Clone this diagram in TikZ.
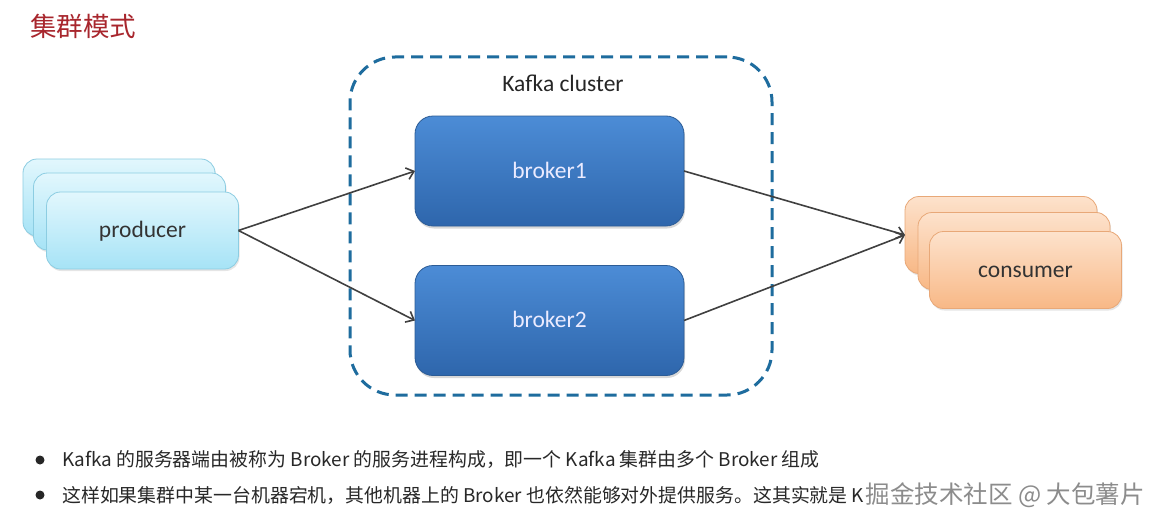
\documentclass[tikz,border=0pt]{standalone}
\usepackage{fontspec}
\setmainfont{Carlito}
\newfontfamily\cjk{Noto Sans CJK SC}
\usetikzlibrary{arrows.meta,shadows,positioning}
\definecolor{titlered}{RGB}{168,38,45}
\definecolor{clusterblue}{RGB}{30,108,158}
\definecolor{brokertop}{RGB}{76,140,214}
\definecolor{brokerbot}{RGB}{46,102,172}
\definecolor{brokerline}{RGB}{44,92,150}
\definecolor{prodtop}{RGB}{226,247,253}
\definecolor{prodbot}{RGB}{166,227,246}
\definecolor{prodline}{RGB}{140,205,226}
\definecolor{constop}{RGB}{253,226,204}
\definecolor{consbot}{RGB}{248,184,134}
\definecolor{consline}{RGB}{232,168,120}
\definecolor{arrowgray}{RGB}{64,64,64}
\definecolor{textgray}{RGB}{40,40,40}
\begin{document}
\begin{tikzpicture}[x=1pt, y=-1pt, >={Straight Barb[length=7pt,width=12pt]},
  label/.style={font=\fontsize{23.5}{28}\selectfont, text height=14pt, text depth=0pt},
  stackbox/.style={rounded corners=14pt, line width=0.8pt, minimum width=192pt, minimum height=77pt,
    inner sep=0pt, outer sep=0pt, drop shadow={opacity=0.2, shadow xshift=1pt, shadow yshift=-2pt}},
  prodbox/.style={stackbox, draw=prodline, top color=prodtop, bottom color=prodbot},
  consbox/.style={stackbox, draw=consline, top color=constop, bottom color=consbot},
  brokerbox/.style={draw=brokerline, line width=0.8pt, rounded corners=18pt, top color=brokertop,
    bottom color=brokerbot, minimum width=269pt, minimum height=110pt, inner sep=0pt, outer sep=0pt,
    drop shadow={opacity=0.3, shadow xshift=1pt, shadow yshift=-2.5pt}},
  link/.style={->, draw=arrowgray, line width=1.6pt},
  bullet/.style={circle, fill=black!85, inner sep=0pt, minimum size=9pt},
  line/.style={anchor=west, inner sep=0pt, text=textgray, font=\cjk\fontsize{18.9}{22}\selectfont}]
\fill[white] (0,0) rectangle (1153,527);
\useasboundingbox (0,0) rectangle (1153,527);
% title
\node[anchor=west, inner sep=0pt, text=titlered, font=\cjk\fontsize{26.5}{30}\selectfont] (title) at (30,26) {集群模式};
% cluster
\node[draw=clusterblue, line width=3pt, dash pattern=on 12pt off 7pt, rounded corners=45pt,
  minimum width=422pt, minimum height=338pt, inner sep=0pt] (cluster) at (561,226) {};
\node[label, text=black!85] (clustername) at (563,85) {Kafka cluster};
\node[brokerbox, label, text=white!92!blue] (broker1) at (549.5,171) {broker1};
\node[brokerbox, label, text=white!92!blue] (broker2) at (549.5,320.5) {broker2};
% producers
\node[prodbox] (prod3) at (119,197.5) {};
\node[prodbox] (prod2) at (129.5,211.5) {};
\node[prodbox, label, text=black!80] (prod) at (142.5,230.5) {producer};
% consumers
\node[consbox] (cons3) at (1001,235) {};
\node[consbox] (cons2) at (1014,251) {};
\node[consbox, label, text=black!80] (cons) at (1025.5,270) {consumer};
% links
\draw[link] (prod.east) -- (broker1.west);
\draw[link] (prod.east) -- (broker2.west);
\draw[link] (broker1.east) -- (cons3.west);
\draw[link] (broker2.east) -- (cons3.west);
% notes
\node[bullet] (dot1) at (40,460) {};
\node[bullet] (dot2) at (40,495) {};
\node[line] (note1) at (62,460) {Kafka 的服务器端由被称为 Broker 的服务进程构成，即一个 Kafka 集群由多个 Broker 组成};
\node[line] (note2) at (62,495) {这样如果集群中某一台机器宕机，其他机器上的 Broker 也依然能够对外提供服务。这其实就是 K};
\node[right=1pt of note2, inner sep=0pt, text=black!45, font=\cjk\fontsize{24.5}{28}\selectfont] (mark) {掘金技术社区 @ 大包薯片};
\end{tikzpicture}
\end{document}
